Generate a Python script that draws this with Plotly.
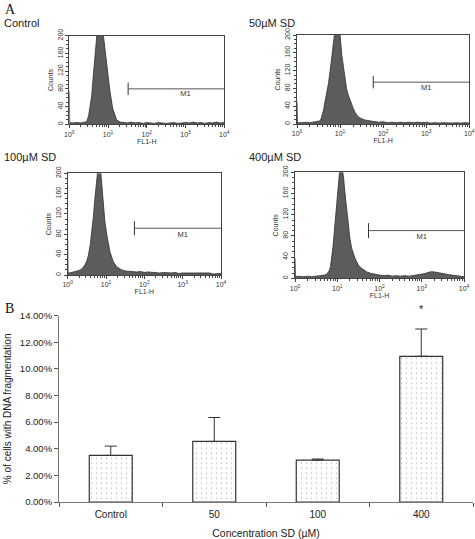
import plotly.graph_objects as go

# ---------------- Data ----------------
# Flow cytometry histograms: log10(FL1-H) positions and counts
ctrl_log = [0.00, 0.01, 0.1, 0.2, 0.3, 0.4, 0.45, 0.5, 0.55, 0.58, 0.62, 0.66, 0.70, 0.77, 0.84, 0.90, 0.96, 1.00, 1.05, 1.12, 1.17, 1.22, 1.31, 1.4, 1.5, 1.6, 1.7, 1.8, 1.9, 2.0, 2.1, 2.2, 2.3, 2.4, 2.5, 2.6, 2.7, 2.8, 2.9, 3.0, 3.1, 3.2, 3.3, 3.4, 3.5, 3.6, 3.7, 3.8, 3.9, 4.0]
ctrl_counts = [74, 4, 3, 4, 3, 4, 6, 20, 50, 66, 111, 170, 230, 260, 230, 185, 134, 100, 74, 36, 20, 10, 5, 4, 3, 5, 3, 4, 2, 4, 3, 2, 4, 3, 2, 3, 4, 2, 3, 4, 3, 5, 3, 4, 2, 4, 3, 5, 3, 4]

sd50_log = [0.00, 0.01, 0.1, 0.2, 0.3, 0.4, 0.45, 0.5, 0.53, 0.56, 0.59, 0.62, 0.65, 0.69, 0.73, 0.77, 0.80, 0.84, 0.88, 0.94, 1.00, 1.04, 1.08, 1.11, 1.15, 1.19, 1.23, 1.27, 1.31, 1.35, 1.42, 1.5, 1.58, 1.7, 1.81, 1.9, 2.0, 2.1, 2.2, 2.3, 2.4, 2.5, 2.6, 2.7, 2.8, 2.9, 3.0, 3.1, 3.2, 3.3, 3.4, 3.5, 3.6, 3.7, 3.8, 3.9, 4.0]
sd50_counts = [50, 3, 3, 4, 3, 5, 5, 6, 7, 12, 20, 33, 50, 70, 91, 120, 148, 185, 210, 225, 200, 155, 125, 99, 80, 65, 53, 43, 34, 26, 16, 12, 9, 7, 5, 4, 5, 3, 4, 3, 4, 3, 4, 3, 4, 3, 4, 2, 3, 2, 3, 2, 2, 3, 2, 3, 2]

sd100_log = [0.00, 0.01, 0.05, 0.1, 0.15, 0.19, 0.25, 0.3, 0.37, 0.45, 0.5, 0.54, 0.59, 0.63, 0.67, 0.71, 0.76, 0.81, 0.86, 0.93, 0.97, 1.02, 1.06, 1.10, 1.15, 1.19, 1.28, 1.35, 1.41, 1.5, 1.67, 1.8, 1.9, 2.0, 2.1, 2.28, 2.4, 2.5, 2.6, 2.7, 2.8, 2.9, 3.0, 3.15, 3.3, 3.4, 3.5, 3.6, 3.7, 3.8, 3.9, 4.0]
sd100_counts = [69, 5, 4, 5, 6, 7, 8, 9, 12, 20, 28, 39, 60, 85, 115, 151, 205, 225, 205, 138, 105, 79, 60, 46, 35, 26, 16, 12, 10, 8, 7, 6, 7, 5, 6, 5, 4, 5, 4, 4, 5, 3, 4, 4, 3, 4, 3, 3, 4, 2, 3, 3]

sd400_log = [0.00, 0.01, 0.1, 0.2, 0.3, 0.4, 0.5, 0.55, 0.62, 0.7, 0.75, 0.81, 0.84, 0.87, 0.90, 0.93, 0.96, 0.99, 1.03, 1.07, 1.11, 1.15, 1.18, 1.22, 1.26, 1.30, 1.34, 1.38, 1.42, 1.46, 1.50, 1.56, 1.62, 1.7, 1.81, 1.9, 2.0, 2.13, 2.2, 2.3, 2.4, 2.5, 2.6, 2.7, 2.8, 2.9, 3.0, 3.08, 3.15, 3.23, 3.3, 3.39, 3.47, 3.55, 3.63, 3.71, 3.8, 3.9, 4.0]
sd400_counts = [38, 3, 4, 3, 4, 3, 4, 4.5, 5, 6, 8, 14, 22, 38, 60, 88, 118, 151, 190, 215, 210, 190, 163, 130, 100, 75, 57, 46, 38, 31, 25, 20, 16, 12, 9, 7, 6, 5, 6, 4, 5, 4, 5, 4, 5, 6, 8, 9, 11, 12.5, 12, 11, 10, 9, 7, 6, 5, 4, 3]

panel_titles = ["Control", "50\u00b5M SD", "100\u00b5M SD", "400\u00b5M SD"]
m1_start = [33, 59, 55, 55]      # FL1-H where the M1 gate begins
m1_level = [80, 94, 92, 90]      # counts level of the M1 gate line
m1_end = 10000

hist_ticks = [1, 10, 100, 1000, 10000]
hist_ticktext = ["10<sup>0</sup>", "10<sup>1</sup>", "10<sup>2</sup>", "10<sup>3</sup>", "10<sup>4</sup>"]
count_ticks = [0, 40, 80, 120, 160, 200]

# Bar chart
categories = ["Control", "50", "100", "400"]
pct_values = [0.035, 0.0455, 0.0315, 0.1095]
pct_errors = [0.007, 0.018, 0.0008, 0.0205]
sig_marks = ["", "", "", "*"]

# ---------------- Figure ----------------
W, H = 475, 539
def xd(a, b):
    return [a / W, b / W]
def yd(top, bottom):
    return [1 - bottom / H, 1 - top / H]

hist_domains = [
    (xd(69.3, 224.3), yd(35.7, 124.3)),
    (xd(297, 469.3), yd(35, 124)),
    (xd(67.7, 221), yd(173.3, 275)),
    (xd(295, 464), yd(172.3, 278.3)),
]
hist_data = [(ctrl_log, ctrl_counts), (sd50_log, sd50_counts),
             (sd100_log, sd100_counts), (sd400_log, sd400_counts)]

FONT = "Liberation Sans, Arial, sans-serif"
fig = go.Figure()
layout = dict(width=W, height=H, margin=dict(l=0, r=0, t=0, b=0, autoexpand=False),
              paper_bgcolor="white", plot_bgcolor="white", showlegend=False,
              font=dict(family=FONT, color="#222"))
annotations = []

for i, ((lg, cnt), (dx, dy)) in enumerate(zip(hist_data, hist_domains)):
    n = i + 1
    xa = "x" if n == 1 else f"x{n}"
    ya = "y" if n == 1 else f"y{n}"
    xs = [10 ** v for v in lg]
    fig.add_trace(go.Scatter(x=xs, y=cnt, xaxis=xa, yaxis=ya, mode="lines",
                             fill="tozeroy", fillcolor="#5c5c5c",
                             line=dict(color="#2e2e2e", width=0.8)))
    # M1 gate
    fig.add_trace(go.Scatter(x=[m1_start[i], m1_end], y=[m1_level[i], m1_level[i]],
                             xaxis=xa, yaxis=ya, mode="lines",
                             line=dict(color="#555", width=1)))
    fig.add_trace(go.Scatter(x=[m1_start[i], m1_start[i]],
                             y=[m1_level[i] - 14, m1_level[i] + 14],
                             xaxis=xa, yaxis=ya, mode="lines",
                             line=dict(color="#333", width=1)))
    fig.add_trace(go.Scatter(x=[1000], y=[m1_level[i] - 13], xaxis=xa, yaxis=ya,
                             mode="text", text=["M1"],
                             textfont=dict(size=7.5, color="#333", family=FONT)))
    axkey = "xaxis" if n == 1 else f"xaxis{n}"
    aykey = "yaxis" if n == 1 else f"yaxis{n}"
    layout[axkey] = dict(domain=dx, anchor=ya, type="log", range=[0, 4], automargin=False,
                         tickvals=hist_ticks, ticktext=hist_ticktext,
                         tickfont=dict(size=7, color="#333"),
                         ticks="outside", ticklen=3, tickcolor="#444",
                         minor=dict(ticks="outside", ticklen=2, tickcolor="#444", dtick="D1"),
                         showline=True, linecolor="#444", linewidth=1, mirror=True,
                         showgrid=False, zeroline=False,
                         title=dict(text="FL1-H", font=dict(size=7, color="#333"), standoff=1))
    layout[aykey] = dict(domain=dy, anchor=xa, range=[0, 200], automargin=False,
                         tickvals=count_ticks, tickangle=-90,
                         tickfont=dict(size=7, color="#333"),
                         ticks="outside", ticklen=3, tickcolor="#444",
                         minor=dict(ticks="outside", ticklen=2, tickcolor="#444", dtick=10),
                         showline=True, linecolor="#444", linewidth=1, mirror=True,
                         showgrid=False, zeroline=False,
                         title=dict(text="Counts", font=dict(size=7, color="#333"), standoff=2))

# panel titles
title_pos = [(2, 23), (247, 23), (2, 157), (247, 157)]
for t, (px, py) in zip(panel_titles, title_pos):
    annotations.append(dict(text=t, xref="paper", yref="paper", x=px / W, y=1 - py / H,
                            xanchor="left", yanchor="middle", showarrow=False,
                            font=dict(size=11, color="#222", family=FONT)))

SERIF = "Liberation Serif, Times New Roman, serif"
annotations.append(dict(text="A", xref="paper", yref="paper", x=3 / W, y=1 - 10 / H,
                        xanchor="left", yanchor="middle", showarrow=False,
                        font=dict(size=14, color="#111", family=SERIF)))
annotations.append(dict(text="B", xref="paper", yref="paper", x=3 / W, y=1 - 308 / H,
                        xanchor="left", yanchor="middle", showarrow=False,
                        font=dict(size=14, color="#111", family=SERIF)))

# bar chart
fig.add_trace(go.Bar(x=categories, y=pct_values, xaxis="x5", yaxis="y5",
                     marker=dict(color="white", line=dict(color="#333", width=1.2),
                                 pattern=dict(shape=".", fgcolor="#666", bgcolor="white",
                                              size=5, solidity=0.06)),
                     error_y=dict(type="data", array=pct_errors, arrayminus=[0, 0, 0, 0],
                                  symmetric=False, color="#333", thickness=1, width=6)))
for idx, (v, e, s) in enumerate(zip(pct_values, pct_errors, sig_marks)):
    if s:
        annotations.append(dict(text=s, xref="x5", yref="y5", x=idx, y=v + e,
                                yanchor="middle", yshift=20, showarrow=False,
                                font=dict(size=11, color="#222", family=FONT)))

layout["xaxis5"] = dict(domain=xd(59, 473), anchor="y5", type="category", automargin=False,
                        range=[-0.5, len(categories) - 0.5],
                        tickson="boundaries", ticks="outside", ticklen=4, tickcolor="#555",
                        ticklabelstandoff=3,
                        showline=True, linecolor="#777", linewidth=1, showgrid=False,
                        tickfont=dict(size=10, color="#222"),
                        title=dict(text="Concentration SD (\u00b5M)", font=dict(size=10.5, color="#222"), standoff=10))
layout["yaxis5"] = dict(domain=yd(315.7, 502), anchor="x5", range=[0, 0.14], dtick=0.02,
                        automargin=False,
                        tickformat=".2%", ticks="outside", ticklen=4, tickcolor="#555",
                        showline=True, linecolor="#777", linewidth=1, showgrid=False,
                        zeroline=False, tickfont=dict(size=9.5, color="#222"),
                        title=dict(text="% of cells with DNA fragmentation",
                                   font=dict(size=10, color="#222"), standoff=6))
layout["bargap"] = 0.585
layout["annotations"] = annotations
fig.update_layout(**layout)
fig.write_html("out.html", config={"displayModeBar": False},
               post_script="document.body.style.margin='0px';")
